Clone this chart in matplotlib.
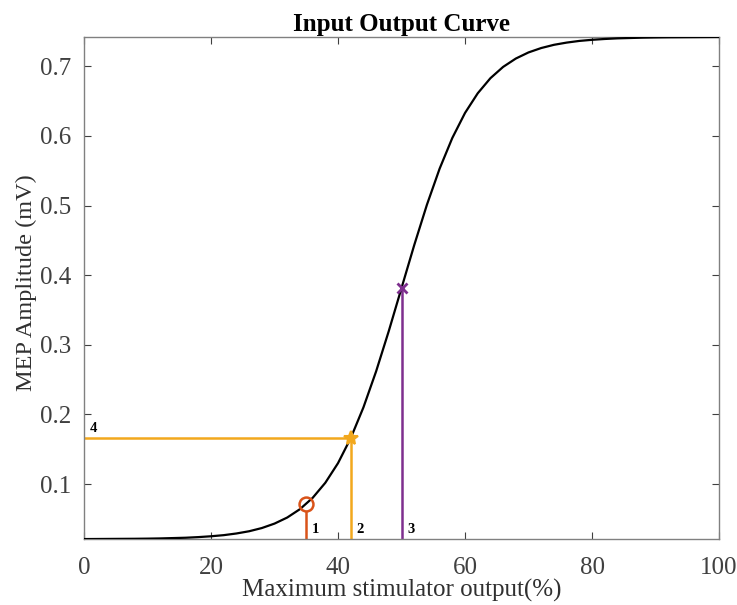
import matplotlib.pyplot as plt

plt.rcParams['font.family'] = ['Liberation Serif', 'DejaVu Serif']

# values
stim = [0, 2, 4, 6, 8, 10, 12, 14, 16, 18, 20, 22, 24, 26, 28, 30, 32, 34, 36, 38,
        40, 42, 44, 46, 48, 50, 52, 54, 56, 58, 60, 62, 64, 66, 68, 70, 72, 74, 76, 78,
        80, 82, 84, 86, 88, 90, 92, 94, 96, 98, 100]
mep = [0.0211, 0.0212, 0.0213, 0.0214, 0.0215, 0.0217, 0.0220, 0.0225, 0.0230, 0.0239,
       0.0251, 0.0267, 0.0291, 0.0323, 0.0369, 0.0433, 0.0520, 0.0640, 0.0802, 0.1019,
       0.1301, 0.1660, 0.2101, 0.2619, 0.3199, 0.3815, 0.4431, 0.5011, 0.5529, 0.5970,
       0.6329, 0.6611, 0.6828, 0.6990, 0.7110, 0.7198, 0.7261, 0.7307, 0.7339, 0.7363,
       0.7379, 0.7391, 0.7400, 0.7405, 0.7410, 0.7413, 0.7415, 0.7416, 0.7417, 0.7418,
       0.7419]

p1 = (35, 0.0715)
p2 = (42, 0.166)
p3 = (50, 0.3815)
labels = ['1', '2', '3', '4']

orange = '#D95319'
yellow = '#F2A81D'
purple = '#7E2F8E'

fig = plt.figure(figsize=(7.37, 6.05), dpi=100)
ax = fig.add_axes([0.114, 0.109, 0.8616, 0.8298])

ymin, ymax = min(mep), max(mep)

ax.plot(stim, mep, color='black', lw=1.6, zorder=3)

ax.plot([p1[0], p1[0]], [ymin, p1[1] - 0.011], color=orange, lw=1.8, zorder=2)
ax.plot(p1[0], p1[1], 'o', mfc='none', mec=orange, ms=10, mew=1.8, zorder=4)

ax.plot([p2[0], p2[0]], [ymin, p2[1]], color=yellow, lw=1.8, zorder=2)
ax.plot([0, p2[0]], [p2[1], p2[1]], color=yellow, lw=1.8, zorder=2)
ax.plot(p2[0], p2[1], '*', color=yellow, ms=10, mew=1.5, zorder=4)

ax.plot([p3[0], p3[0]], [ymin, p3[1]], color=purple, lw=1.8, zorder=2)
ax.plot(p3[0], p3[1], 'x', color=purple, ms=7, mew=2, zorder=4)

lab_kw = dict(fontsize=10.5, fontweight='bold', ha='left', va='bottom')
ax.text(p1[0] + 0.8, ymin + 0.005, labels[0], **lab_kw)
ax.text(p2[0] + 0.9, ymin + 0.005, labels[1], **lab_kw)
ax.text(p3[0] + 0.9, ymin + 0.005, labels[2], **lab_kw)
ax.text(0.9, p2[1] + 0.004, labels[3], **lab_kw)

ax.set_xlim(0, 100)
ax.set_ylim(ymin, ymax)
ax.set_xticks([0, 20, 40, 60, 80, 100])
ax.set_yticks([0.1, 0.2, 0.3, 0.4, 0.5, 0.6, 0.7])
ax.set_yticklabels(['0.1', '0.2', '0.3', '0.4', '0.5', '0.6', '0.7'])
ax.tick_params(direction='in', length=5, width=0.8, colors='#404040', labelsize=18,
               top=True, right=True)
ax.tick_params(axis='x', pad=13)
ax.tick_params(axis='y', pad=9)
for s in ax.spines.values():
    s.set_color('#808080')
    s.set_linewidth(1.0)

ax.set_xlabel('Maximum stimulator output(%)', fontsize=18, color='#303030', labelpad=0)
ax.set_ylabel('MEP Amplitude (mV)', fontsize=17.5, color='#303030')
ax.yaxis.set_label_coords(-0.074, 0.51)
ax.set_title('Input Output Curve', fontsize=18, fontweight='bold', pad=4)

fig.savefig('out.png', dpi=100)
